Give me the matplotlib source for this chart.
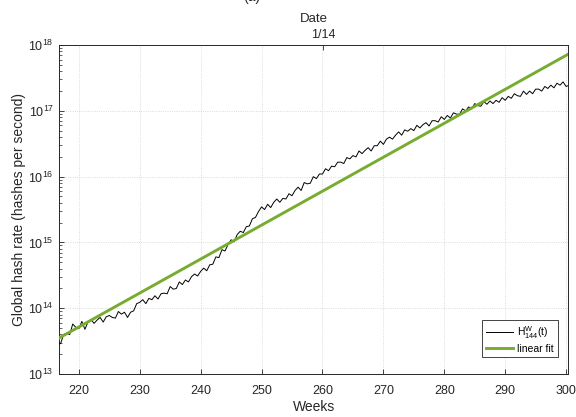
import numpy as np
import matplotlib
matplotlib.use("Agg")
import matplotlib.pyplot as plt
from matplotlib.ticker import LogLocator, NullFormatter

plt.rcParams['font.family'] = ['Liberation Sans', 'DejaVu Sans']
plt.rcParams['mathtext.fontset'] = 'custom'
plt.rcParams['mathtext.rm'] = 'Liberation Sans'
plt.rcParams['mathtext.it'] = 'Liberation Sans:italic'
plt.rcParams['mathtext.bf'] = 'Liberation Sans:bold'

# weeks since the genesis block, sampled every half week
weeks = np.arange(216.5, 300.51, 0.5)

# log10 of the 144-block hash rate estimate
log_hash_rate = [
    13.49, 13.46, 13.60, 13.62, 13.60, 13.76, 13.71, 13.69, 13.80, 13.68,
    13.79, 13.83, 13.77, 13.82, 13.86, 13.79, 13.87, 13.89, 13.86, 13.85,
    13.95, 13.91, 13.94, 13.86, 13.94, 13.96, 14.07, 14.09, 14.13, 14.07,
    14.15, 14.13, 14.19, 14.14, 14.22, 14.23, 14.22, 14.33, 14.29, 14.30,
    14.40, 14.36, 14.43, 14.40, 14.48, 14.52, 14.49, 14.56, 14.61, 14.57,
    14.66, 14.67, 14.78, 14.77, 14.89, 14.87, 14.97, 15.04, 15.01, 15.12,
    15.17, 15.15, 15.24, 15.25, 15.36, 15.38, 15.47, 15.54, 15.50, 15.58,
    15.53, 15.61, 15.66, 15.61, 15.67, 15.66, 15.74, 15.71, 15.79, 15.84,
    15.79, 15.91, 15.89, 15.90, 16.00, 15.97, 16.04, 16.04, 16.12, 16.09,
    16.16, 16.15, 16.22, 16.22, 16.20, 16.29, 16.27, 16.32, 16.30, 16.39,
    16.35, 16.40, 16.44, 16.39, 16.47, 16.47, 16.54, 16.49, 16.57, 16.60,
    16.57, 16.63, 16.68, 16.63, 16.71, 16.69, 16.73, 16.70, 16.78, 16.74,
    16.79, 16.82, 16.77, 16.85, 16.85, 16.83, 16.91, 16.87, 16.93, 16.89,
    16.97, 16.95, 16.95, 17.03, 17.00, 17.06, 17.03, 17.11, 17.08, 17.07,
    17.14, 17.10, 17.15, 17.11, 17.16, 17.13, 17.20, 17.16, 17.22, 17.19,
    17.26, 17.23, 17.22, 17.30, 17.25, 17.30, 17.26, 17.33, 17.33, 17.30,
    17.37, 17.34, 17.39, 17.35, 17.42, 17.39, 17.44, 17.37, 17.39,
]
hash_rate = 10.0 ** np.array(log_hash_rate)

# exponential fit: log10(H) = fit_intercept + fit_slope * week
fit_slope = 0.0516
fit_intercept = 2.363

date_tick_week = [260.1]
date_tick_label = ['1/14']

axis_col = '#262626'
fit_col = '#77AC30'

fig = plt.figure(figsize=(5.76, 4.17), dpi=100)
ax = fig.add_axes([0.103, 0.103, 0.883, 0.789])

ax.plot(weeks, hash_rate, color='black', lw=0.7, label=r'$\mathrm{H}^{\mathrm{W}}_{\mathrm{144}}$(t)', zorder=3)
fit_weeks = np.array([weeks[0], weeks[-1]])
ax.plot(fit_weeks, 10.0 ** (fit_intercept + fit_slope * fit_weeks), color=fit_col, lw=2.1,
        label='linear fit', zorder=4)

ax.set_yscale('log')
ax.set_xlim(216.8, 300.3)
ax.set_ylim(1e13, 1e18)
ax.set_xticks([220, 230, 240, 250, 260, 270, 280, 290, 300])
ax.yaxis.set_major_locator(LogLocator(base=10, numticks=10))
ax.yaxis.set_minor_locator(LogLocator(base=10, subs=np.arange(2, 10), numticks=20))
ax.yaxis.set_minor_formatter(NullFormatter())

ax.grid(True, which='major', ls=':', lw=0.6, color='#d0d0d0')
ax.tick_params(axis='both', which='both', direction='in', colors=axis_col, labelsize=9,
               top=False, right=False)
ax.tick_params(axis='both', which='major', length=3.5, width=0.6)
ax.tick_params(axis='x', which='major', pad=8)
ax.tick_params(axis='y', which='major', pad=4)
ax.tick_params(axis='y', which='minor', length=2, width=0.5)
for s in ax.spines.values():
    s.set_color(axis_col)
    s.set_linewidth(0.7)

ax.set_xlabel('Weeks', fontsize=10, color=axis_col, labelpad=2)
ax.set_ylabel('Global hash rate (hashes per second)', fontsize=10, color=axis_col, labelpad=2)

# calendar axis on top
ax2 = ax.twiny()
ax2.set_xlim(ax.get_xlim())
ax2.set_xticks(date_tick_week)
ax2.set_xticklabels(date_tick_label)
ax2.tick_params(axis='x', direction='in', length=3.5, width=0.6, colors=axis_col, labelsize=9, pad=3)
ax2.set_xlabel('Date', fontsize=9.5, color=axis_col, labelpad=5)
for s in ax2.spines.values():
    s.set_visible(False)

leg = ax.legend(loc='lower right', fontsize=7.5, frameon=True, fancybox=False,
                edgecolor=axis_col, framealpha=1, handlelength=2.6, handletextpad=0.4,
                borderpad=0.35, labelspacing=0.3, bbox_to_anchor=(0.99, 0.035))
leg.get_frame().set_linewidth(0.6)

fig.text(252 / 576, 1 - 4 / 417, '(a)', ha='center', va='bottom', fontsize=10, color=axis_col)

fig.savefig('out.png', dpi=100)
